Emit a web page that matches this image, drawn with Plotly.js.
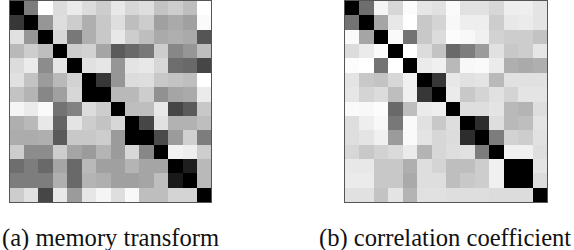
<!DOCTYPE html>
<html><head><meta charset="utf-8">
<script src="https://cdn.plot.ly/plotly-3.0.0.min.js"></script>
<style>html,body{margin:0;padding:0;background:#fff;overflow:hidden}</style></head>
<body><div id="chart" style="width:574px;height:250px"></div>
<script>
const labels = [1,2,3,4,5,6,7,8,9,10,11,12,13,14];
const captionA = "(a) memory transform";
const captionB = "(b) correlation coefficient";
const memoryTransform = [
[0,125,255,220,235,220,205,232,215,222,195,205,190,255],
[55,0,150,222,205,175,200,222,190,205,160,170,160,250],
[225,150,0,215,120,175,200,232,205,190,170,175,170,85],
[185,205,190,0,205,210,165,90,105,120,205,135,150,190],
[220,235,140,230,0,225,230,150,228,232,215,110,105,70],
[225,195,155,185,210,0,55,150,220,222,200,195,190,255],
[195,180,135,160,215,0,0,185,185,205,145,165,170,235],
[245,235,250,115,130,220,205,0,190,190,232,70,90,200],
[175,185,232,100,228,205,195,215,0,70,225,178,178,190],
[172,172,175,90,200,200,205,155,0,0,75,155,208,125],
[205,140,140,205,165,155,180,155,215,135,0,242,238,205],
[110,125,105,165,105,185,160,160,180,165,165,0,30,185],
[125,125,125,175,105,180,175,160,160,165,190,25,0,185],
[205,225,70,232,155,230,245,222,248,190,190,212,212,0]
];
const correlation = [
[0,110,245,215,252,230,225,250,225,225,215,238,238,228],
[115,0,165,232,255,200,212,248,238,238,205,232,235,228],
[250,165,0,250,115,200,220,252,248,240,210,205,205,195],
[220,235,250,0,255,220,195,105,125,155,225,200,205,230],
[252,255,115,255,0,235,240,185,248,250,235,175,170,175],
[228,200,195,215,240,0,55,232,225,228,185,225,225,225],
[230,212,220,190,240,55,0,235,200,212,225,212,228,228],
[250,248,252,105,190,235,238,0,222,222,228,185,180,222],
[222,238,248,120,250,225,200,222,0,45,222,185,190,228],
[222,228,240,155,250,228,215,220,45,0,125,210,205,225],
[215,200,210,218,235,180,215,222,225,125,0,240,240,222],
[232,232,200,200,175,222,212,190,190,205,240,0,0,228],
[235,235,200,200,170,222,222,190,200,205,240,0,0,220],
[225,225,195,228,180,225,225,222,222,222,220,220,220,0]
];
const grey = [[0,'#000'],[1,'#fff']];
const hm = (z,xa,ya)=>({type:'heatmap',z,x:labels,y:labels,xaxis:xa,yaxis:ya,colorscale:grey,zmin:0,zmax:255,showscale:false,xgap:0,ygap:0,hoverinfo:'skip'});
const W=574,H=250;
const ax = (extra)=>Object.assign({showticklabels:false,ticks:'',showgrid:false,zeroline:false,showline:true,mirror:true,linecolor:'#555',linewidth:1},extra);
const capFont={family:'"Liberation Serif",serif',size:24.6,color:'#111'};
const yDom=[(H-202)/H,(H-1)/H];
const cap=(text,cx)=>({text,font:capFont,xref:'paper',yref:'paper',x:cx/W,y:(H-238)/H,xanchor:'center',yanchor:'middle',showarrow:false,borderpad:0});
Plotly.newPlot('chart',[hm(memoryTransform,'x','y'),hm(correlation,'x2','y2')],{
 width:W,height:H,margin:{l:0,r:0,t:0,b:0},paper_bgcolor:'#fff',plot_bgcolor:'#fff',showlegend:false,
 xaxis:ax({domain:[9.5/W,211/W],range:[0.5,14.5],anchor:'y'}),
 yaxis:ax({domain:yDom,range:[14.5,0.5],anchor:'x'}),
 xaxis2:ax({domain:[345/W,547/W],range:[0.5,14.5],anchor:'y2'}),
 yaxis2:ax({domain:yDom,range:[14.5,0.5],anchor:'x2'}),
 annotations:[cap(captionA,110.5),cap(captionB,445)]
},{displayModeBar:false,staticPlot:true});
</script></body></html>
